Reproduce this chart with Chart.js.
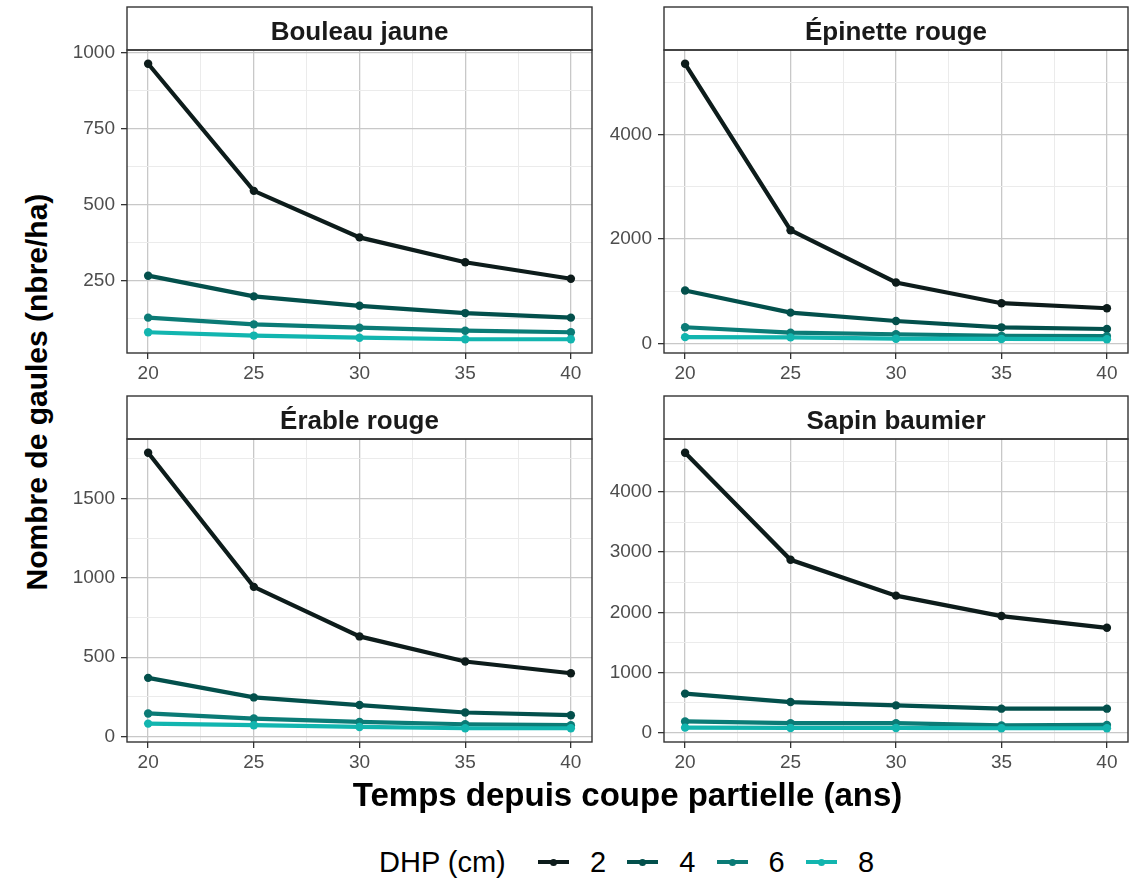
<!DOCTYPE html>
<html><head><meta charset="utf-8">
<script src="https://cdn.jsdelivr.net/npm/chart.js@4"></script>
<style>
body{margin:0;background:#fff;width:1130px;height:879px;overflow:hidden;position:relative;font-family:"Liberation Sans",Arial,sans-serif;}
canvas{position:absolute;}
.ttl{position:absolute;font-weight:bold;color:#000;white-space:nowrap;text-align:center;}
.lg{position:absolute;color:#000;white-space:nowrap;font-size:29px;line-height:40px;height:40px;}
</style></head><body>
<script>
// ---------- data ----------
const years = [20, 25, 30, 35, 40];
const dhpLabels = ['2', '4', '6', '8'];
const panelTitles = ['Bouleau jaune', 'Épinette rouge', 'Érable rouge', 'Sapin baumier'];

const bouleauDhp2 = [964, 546, 393, 311, 257];
const bouleauDhp4 = [267, 199, 168, 144, 129];
const bouleauDhp6 = [129, 107, 96, 86, 81];
const bouleauDhp8 = [81, 70, 63, 58, 58];

const epinetteDhp2 = [5362, 2170, 1168, 771, 674];
const epinetteDhp4 = [1014, 590, 430, 308, 276];
const epinetteDhp6 = [310, 205, 175, 145, 140];
const epinetteDhp8 = [120, 115, 90, 85, 80];

const erableDhp2 = [1787, 943, 631, 473, 399];
const erableDhp4 = [370, 247, 199, 152, 135];
const erableDhp6 = [146, 114, 93, 78, 72];
const erableDhp8 = [82, 72, 61, 53, 53];

const sapinDhp2 = [4650, 2872, 2277, 1938, 1743];
const sapinDhp4 = [650, 510, 455, 400, 400];
const sapinDhp6 = [188, 160, 160, 122, 130];
const sapinDhp8 = [85, 80, 80, 75, 75];

const xTicks = [20, 25, 30, 35, 40];
const yTicksBouleau = [250, 500, 750, 1000];
const yTicksEpinette = [0, 2000, 4000];
const yTicksErable = [0, 500, 1000, 1500];
const yTicksSapin = [0, 1000, 2000, 3000, 4000];

const xTitle = 'Temps depuis coupe partielle (ans)';
const yTitle = 'Nombre de gaules (nbre/ha)';
const legendTitle = 'DHP (cm)';

// ---------- style ----------
const dhpColors = ['#0d1c1b', '#03504c', '#0b7b76', '#12b5af'];
const GEOM = [
  {left: 127, right: 592, top: 50, bottom: 353},
  {left: 664, right: 1128, top: 50, bottom: 353},
  {left: 127, right: 592, top: 439, bottom: 742},
  {left: 664, right: 1128, top: 439, bottom: 742}
];
const STRIP = 43;

function withMinors(major) {
  const step = major[1] - major[0];
  const all = [];
  for (let i = -1; i < major.length; i++) {
    const base = i < 0 ? major[0] - step : major[i];
    if (i >= 0) all.push({v: base, major: true});
    all.push({v: base + step / 2, major: false});
  }
  return all;
}

const stripPlugin = {
  id: 'strip',
  afterDraw(chart, args, opts) {
    const a = chart.chartArea, c = chart.ctx;
    c.save();
    c.lineWidth = 1.4;
    c.strokeStyle = '#333333';
    c.fillStyle = '#ffffff';
    c.fillRect(a.left, a.top - STRIP, a.right - a.left, STRIP);
    c.strokeRect(a.left, a.top - STRIP, a.right - a.left, STRIP);
    c.strokeRect(a.left, a.top, a.right - a.left, a.bottom - a.top);
    c.fillStyle = '#1a1a1a';
    c.font = 'bold 26px "Liberation Sans", Arial, sans-serif';
    c.textAlign = 'center';
    c.textBaseline = 'alphabetic';
    c.fillText(opts.title, (a.left + a.right) / 2, a.top - 10);
    c.restore();
  }
};

function makePanel(i, series, yMajor) {
  const g = GEOM[i];
  const YW = 60, XH = 40, PADT = STRIP + 4, PADR = 4;
  const L = g.left - YW, T = g.top - PADT, W = g.right + PADR - L, H = g.bottom + XH - T;
  const cv = document.createElement('canvas');
  cv.width = W; cv.height = H;
  cv.style.left = L + 'px'; cv.style.top = T + 'px';
  cv.style.width = W + 'px'; cv.style.height = H + 'px';
  document.body.appendChild(cv);

  let lo = Infinity, hi = -Infinity;
  series.forEach(s => s.forEach(v => { lo = Math.min(lo, v); hi = Math.max(hi, v); }));
  const ex = (hi - lo) * 0.05;
  const ymin = lo - ex, ymax = hi + ex;
  const yAll = withMinors(yMajor).filter(t => t.v >= ymin && t.v <= ymax);
  const xAll = withMinors(xTicks).filter(t => t.v >= 19 && t.v <= 41);
  const isMajorX = v => xTicks.includes(v);
  const isMajorY = v => yMajor.includes(v);
  const font = {family: '"Liberation Sans", Arial, sans-serif', size: 19};

  new Chart(cv, {
    type: 'line',
    data: {
      datasets: series.map((vals, k) => ({
        label: dhpLabels[k],
        data: years.map((x, j) => ({x: x, y: vals[j]})),
        borderColor: dhpColors[k],
        backgroundColor: dhpColors[k],
        borderWidth: 4.2,
        pointRadius: 4.2,
        pointHoverRadius: 4.2,
        pointBorderWidth: 0,
        tension: 0,
        order: 3 - k
      }))
    },
    options: {
      responsive: false,
      animation: false,
      devicePixelRatio: 1,
      events: [],
      layout: {padding: {top: PADT, right: PADR, left: 0, bottom: 0}, autoPadding: false},
      plugins: {legend: {display: false}, tooltip: {enabled: false}, strip: {title: panelTitles[i]}},
      scales: {
        x: {
          type: 'linear', min: 19, max: 41,
          afterBuildTicks: s => { s.ticks = xAll.map(t => ({value: t.v})); },
          afterFit: s => { s.height = XH; },
          border: {display: false},
          grid: {
            color: c => isMajorX(c.tick.value) ? '#c8c8c8' : '#ebebeb',
            lineWidth: c => isMajorX(c.tick.value) ? 1.3 : 1,
            drawTicks: true, tickLength: 6, tickWidth: 1.3,
            tickColor: c => isMajorX(c.tick.value) ? '#333333' : 'rgba(0,0,0,0)'
          },
          ticks: {
            autoSkip: false, maxRotation: 0, font: font, color: '#4d4d4d', padding: 3,
            callback: v => isMajorX(v) ? String(v) : ''
          }
        },
        y: {
          type: 'linear', min: ymin, max: ymax,
          afterBuildTicks: s => { s.ticks = yAll.map(t => ({value: t.v})); },
          afterFit: s => { s.width = YW; },
          border: {display: false},
          grid: {
            color: c => isMajorY(c.tick.value) ? '#c8c8c8' : '#ebebeb',
            lineWidth: c => isMajorY(c.tick.value) ? 1.3 : 1,
            drawTicks: true, tickLength: 6, tickWidth: 1.3,
            tickColor: c => isMajorY(c.tick.value) ? '#333333' : 'rgba(0,0,0,0)'
          },
          ticks: {
            autoSkip: false, font: font, color: '#4d4d4d', padding: 6,
            callback: v => isMajorY(v) ? String(v) : ''
          }
        }
      }
    },
    plugins: [stripPlugin]
  });
}

makePanel(0, [bouleauDhp2, bouleauDhp4, bouleauDhp6, bouleauDhp8], yTicksBouleau);
makePanel(1, [epinetteDhp2, epinetteDhp4, epinetteDhp6, epinetteDhp8], yTicksEpinette);
makePanel(2, [erableDhp2, erableDhp4, erableDhp6, erableDhp8], yTicksErable);
makePanel(3, [sapinDhp2, sapinDhp4, sapinDhp6, sapinDhp8], yTicksSapin);

// axis titles
function addDiv(cls, text, css) {
  const d = document.createElement('div');
  d.className = cls; d.textContent = text;
  Object.assign(d.style, css);
  document.body.appendChild(d);
  return d;
}
addDiv('ttl', xTitle, {fontSize: '33px', lineHeight: '40px', height: '40px', width: '800px', left: (627.5 - 400) + 'px', top: '775px'});
addDiv('ttl', yTitle, {fontSize: '30px', lineHeight: '40px', height: '40px', width: '500px', left: (37 - 250) + 'px', top: (392 - 20) + 'px', transform: 'rotate(-90deg)'});

// legend
addDiv('lg', legendTitle, {left: '379px', top: '842px'});
const legX0 = 538, legStep = 89.3;
dhpLabels.forEach((lab, k) => {
  const x = legX0 + k * legStep;
  const line = document.createElement('div');
  Object.assign(line.style, {position: 'absolute', left: x + 'px', top: '860px', width: '31px', height: '4px', background: dhpColors[k]});
  document.body.appendChild(line);
  const dot = document.createElement('div');
  Object.assign(dot.style, {position: 'absolute', left: (x + 12) + 'px', top: '858.5px', width: '7px', height: '7px', borderRadius: '50%', background: dhpColors[k]});
  document.body.appendChild(dot);
  addDiv('lg', lab, {left: (x + 52) + 'px', top: '842px'});
});
</script>
</body></html>
